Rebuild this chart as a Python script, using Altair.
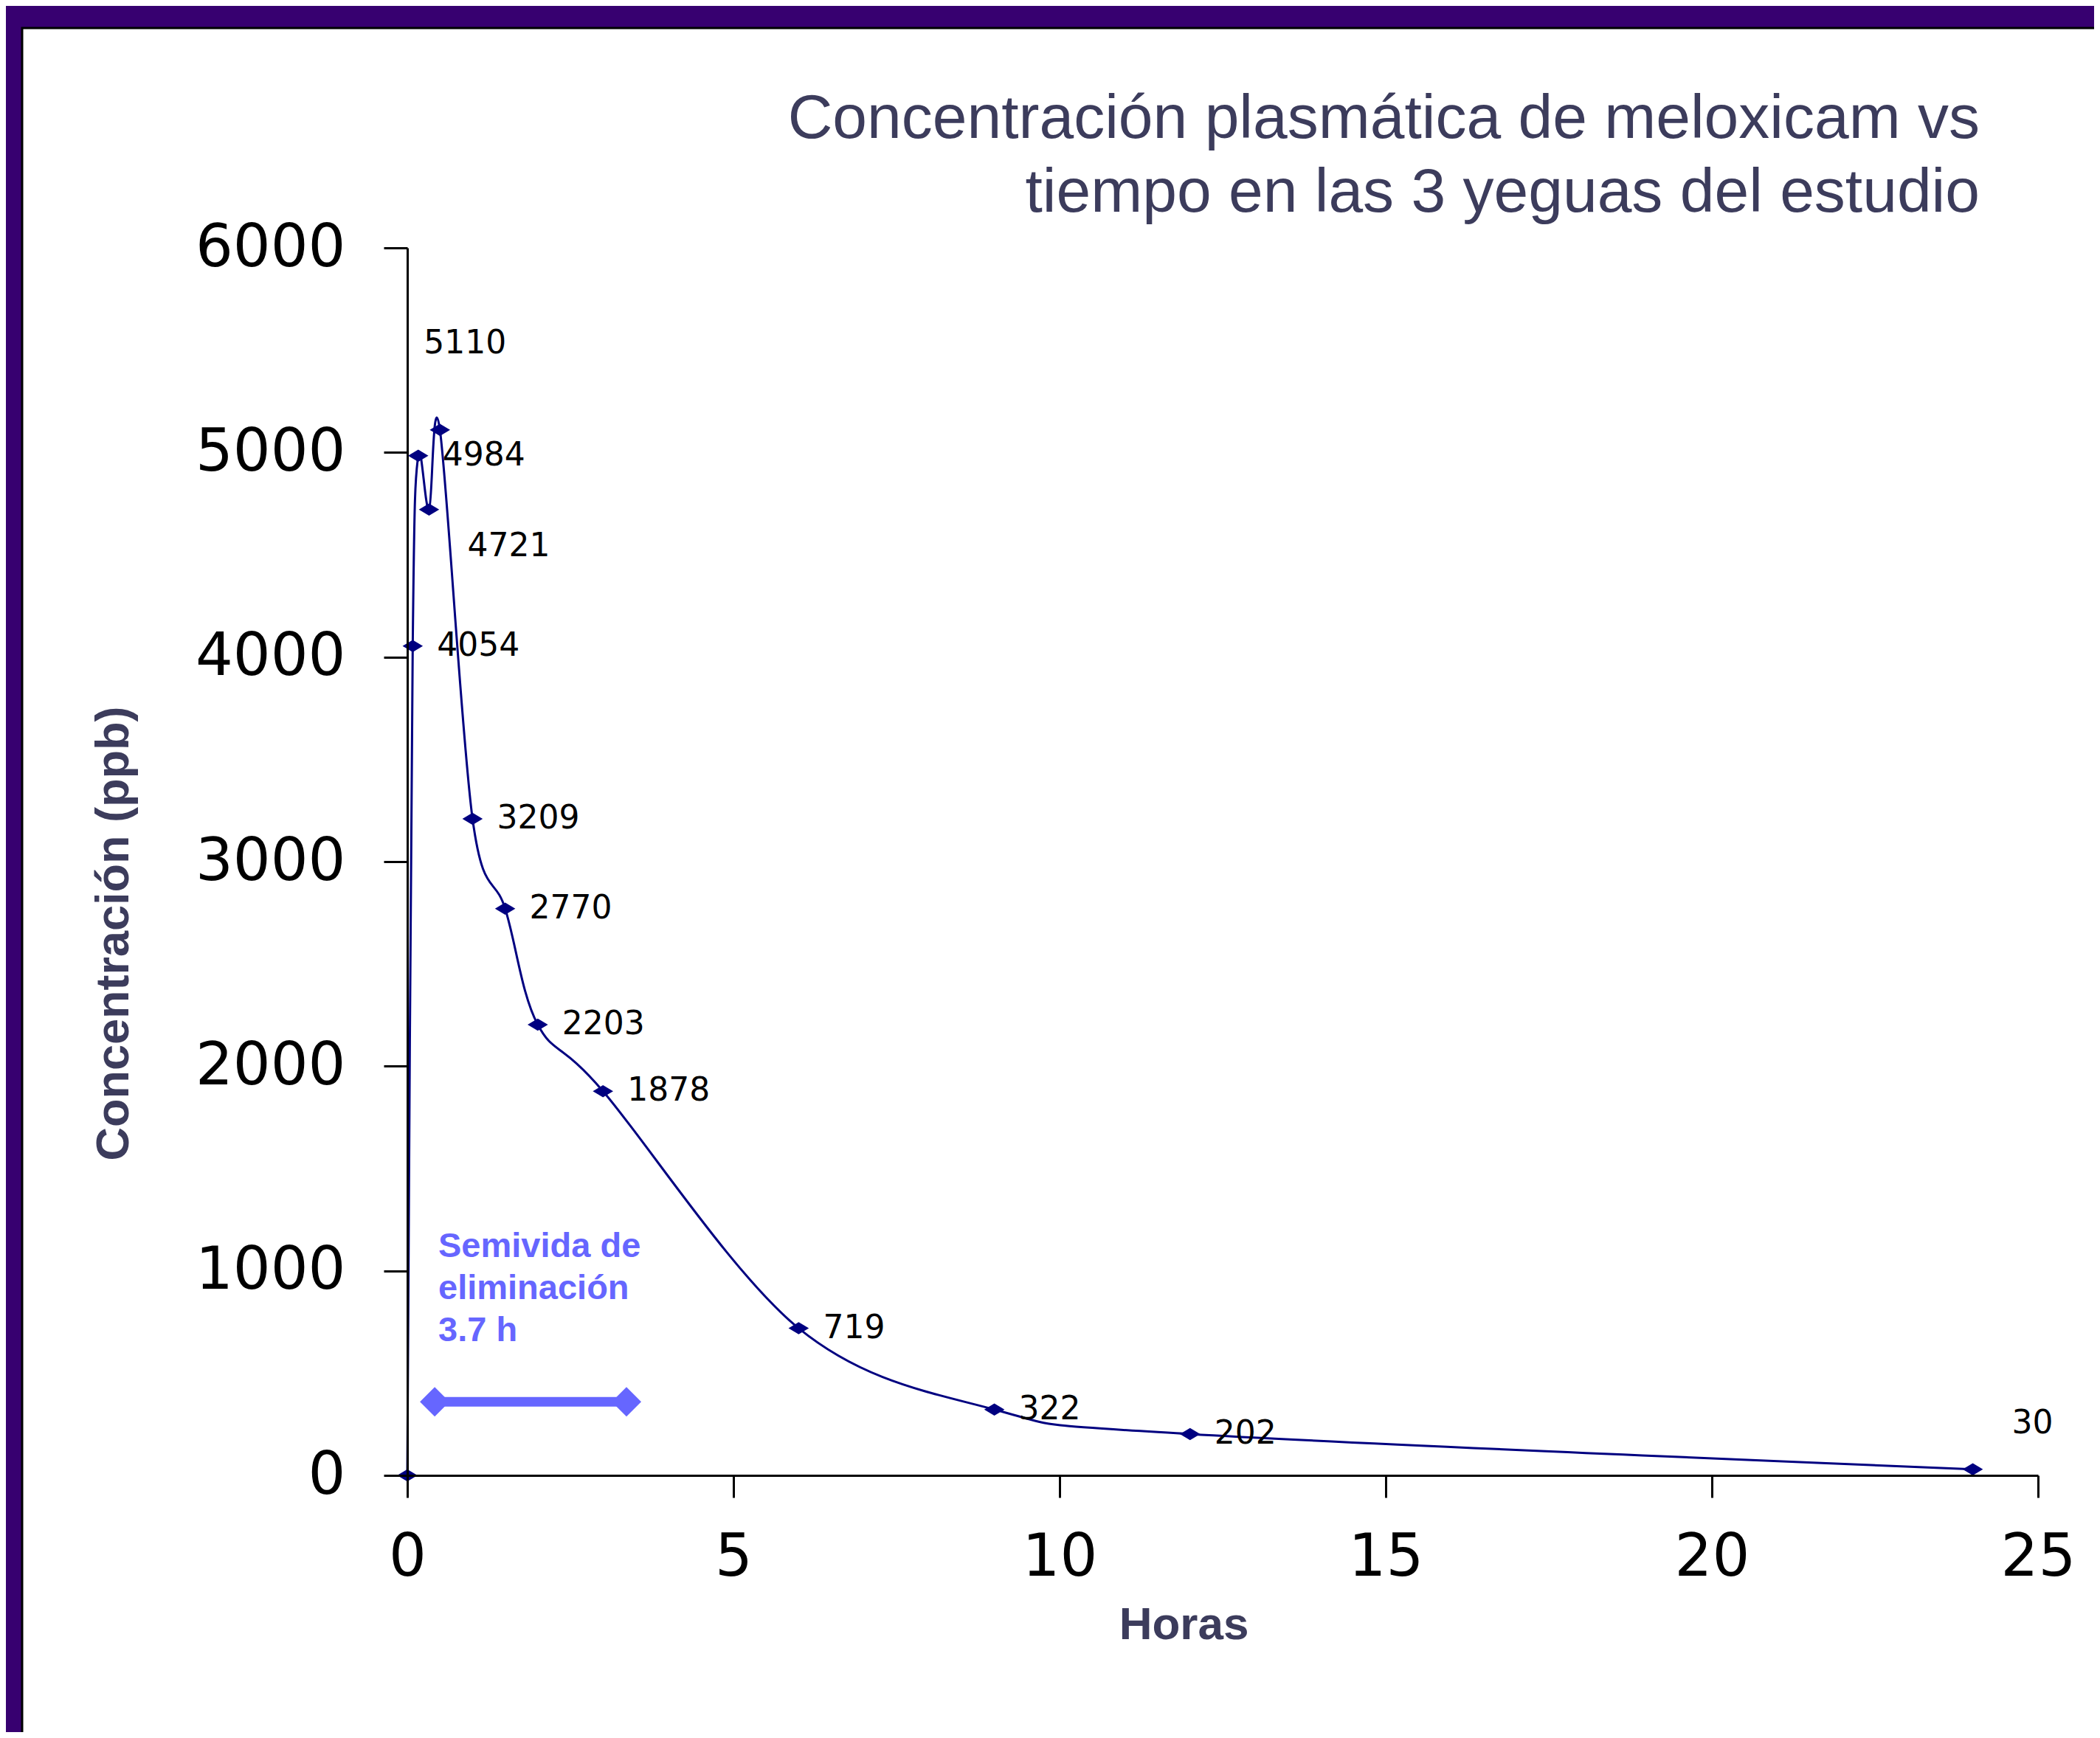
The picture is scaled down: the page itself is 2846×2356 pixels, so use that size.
import altair as alt
import pandas as pd

# --- data ---
horas = [0, 0.083, 0.167, 0.333, 0.5, 1, 1.5, 2, 3, 6, 9, 12, 24]
conc = [0, 4054, 4984, 4721, 5110, 3209, 2770, 2203, 1878, 719, 322, 202, 30]
x_ticks = [0, 5, 10, 15, 20, 25]
y_ticks = [0, 1000, 2000, 3000, 4000, 5000, 6000]
titulo = ["Concentración plasmática de meloxicam vs",
          "tiempo en las 3 yeguas del estudio"]
semivida_texto = ["Semivida de", "eliminación", "3.7 h"]
semivida_h = [0.475]
semivida_c = [1200]
flecha_horas = [0.42, 3.36]
flecha_conc = [360, 360]

DARK = "#3c3c5c"
NAVY = "#000080"
LILAC = "#6666ff"
PURPLE = "#370070"

df = pd.DataFrame({"h": horas, "c": conc})
df_flecha = pd.DataFrame({"h": flecha_horas, "c": flecha_conc})
df_texto = pd.DataFrame({"h": semivida_h, "c": semivida_c,
                         "t": ["\n".join(semivida_texto)]})

x_axis = alt.Axis(values=x_ticks, title="Horas", grid=False, zindex=1, format="d",
                  domainColor="black", domainWidth=3,
                  tickColor="black", tickWidth=3, tickSize=30,
                  labelFont="DejaVu Sans", labelFontSize=80, labelColor="black",
                  labelPadding=42, labelFlush=False, labelOverlap=False,
                  labelLimit=1000,
                  titleFont="Liberation Sans", titleFontWeight="bold",
                  titleFontSize=62, titleColor=DARK,
                  titleX=1052, titleY=202, titleBaseline="middle",
                  titleAlign="center")
y_axis = alt.Axis(values=y_ticks, title="Concentración (ppb)", grid=False, zindex=1,
                  format="d",
                  domainColor="black", domainWidth=3,
                  tickColor="black", tickWidth=3, tickSize=32,
                  labelFont="DejaVu Sans", labelFontSize=80, labelColor="black",
                  labelPadding=52, labelFlush=False, labelOverlap=False,
                  labelLimit=1000,
                  titleFont="Liberation Sans", titleFontWeight="bold",
                  titleFontSize=63, titleColor=DARK, titleAngle=270,
                  titleX=-398, titleY=929, titleBaseline="middle",
                  titleAlign="center", titleLimit=2000)

X = alt.X("h:Q", scale=alt.Scale(domain=[0, 25], nice=False), axis=x_axis)
Y = alt.Y("c:Q", scale=alt.Scale(domain=[0, 6000], nice=False), axis=y_axis)

marco = alt.Chart(alt.Data(values=[{}])).mark_rect(
    fill="white", stroke="black", strokeWidth=3
).encode(x=alt.value(-522), x2=alt.value(2400),
         y=alt.value(-298), y2=alt.value(2100))

linea = alt.Chart(df).mark_line(color=NAVY, strokeWidth=3,
                                interpolate="cardinal", tension=0).encode(x=X, y=Y)
puntos = alt.Chart(df).mark_point(shape="M-1,0L0,-0.6L1,0L0,0.6Z", filled=True,
                                  size=760, color=NAVY, opacity=1).encode(x=X, y=Y)

def etiquetas(filtro, dx, dy):
    return alt.Chart(df).transform_filter(filtro).mark_text(
        align="left", baseline="middle", dx=dx, dy=dy,
        font="DejaVu Sans", fontSize=44, color="black"
    ).encode(x=X, y=Y, text=alt.Text("c:Q", format="d"))

et_normal = etiquetas("datum.c > 0 && datum.c != 5110 && datum.c != 4721 && datum.c != 30", 33, 0)
et_5110 = etiquetas("datum.c == 5110", -22, -117)
et_4721 = etiquetas("datum.c == 4721", 52, 50)
et_30 = etiquetas("datum.c == 30", 53, -62)

flecha = alt.Chart(df_flecha).mark_line(color=LILAC, strokeWidth=13).encode(x=X, y=Y)
flecha_pts = alt.Chart(df_flecha).mark_point(shape="diamond", filled=True, size=1600,
                                             color=LILAC, opacity=1).encode(x=X, y=Y)

anot = alt.Chart(df_texto).mark_text(
    align="left", baseline="top", lineBreak="\n", lineHeight=57,
    font="Liberation Sans", fontWeight="bold", fontSize=47, color=LILAC
).encode(x=X, y=Y, text="t:N")

tit1 = alt.Chart(alt.Data(values=[{}])).mark_text(
    text=titulo[0], align="right", baseline="alphabetic",
    font="Liberation Sans", fontSize=84, color=DARK
).encode(x=alt.value(2131), y=alt.value(-149))
tit2 = alt.Chart(alt.Data(values=[{}])).mark_text(
    text=titulo[1], align="right", baseline="alphabetic",
    font="Liberation Sans", fontSize=84, color=DARK
).encode(x=alt.value(2131), y=alt.value(-49))

chart = alt.layer(
    marco, linea, puntos, et_normal, et_5110, et_4721, et_30,
    flecha, flecha_pts, anot, tit1, tit2
).properties(
    width=2210, height=1664,
    padding={"left": 544, "top": 328, "right": 76, "bottom": 348},
    autosize=alt.AutoSizeParams(type="none"),
    background=PURPLE,
).configure_view(stroke=None)

chart.save("out.html", embed_options={"renderer": "svg", "actions": False})
